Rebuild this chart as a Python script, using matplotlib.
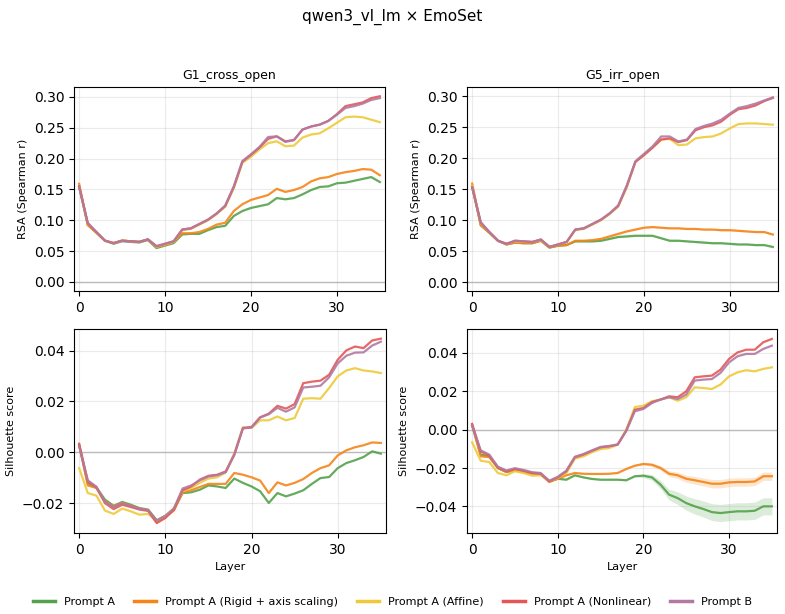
import numpy as np
import matplotlib
matplotlib.use("Agg")
import matplotlib.pyplot as plt
from matplotlib.lines import Line2D

# ---- data ----
layers = np.arange(36)

series_names = ["Prompt A", "Prompt A (Rigid + axis scaling)", "Prompt A (Affine)",
                "Prompt A (Nonlinear)", "Prompt B"]
colors = ["#54a24b", "#f58518", "#eeca3b", "#e45756", "#b279a2"]

panel_titles = ["G1_cross_open", "G5_irr_open"]

# RSA, G1_cross_open
rsa_g1_a = [0.154, 0.093, 0.080, 0.067, 0.062, 0.066, 0.065, 0.064, 0.068, 0.055, 0.059, 0.063,
            0.077, 0.078, 0.078, 0.084, 0.089, 0.091, 0.107, 0.115, 0.120, 0.123, 0.126, 0.136,
            0.134, 0.136, 0.142, 0.149, 0.154, 0.155, 0.160, 0.161, 0.164, 0.167, 0.170, 0.162]
rsa_g1_rigid = [0.159, 0.092, 0.080, 0.067, 0.063, 0.067, 0.066, 0.065, 0.069, 0.057, 0.060, 0.065,
                0.079, 0.079, 0.081, 0.086, 0.093, 0.096, 0.115, 0.126, 0.133, 0.137, 0.141, 0.151,
                0.146, 0.149, 0.154, 0.163, 0.168, 0.170, 0.175, 0.178, 0.180, 0.183, 0.182, 0.173]
rsa_g1_affine = [0.155, 0.094, 0.081, 0.067, 0.063, 0.067, 0.066, 0.065, 0.069, 0.057, 0.061, 0.065,
                 0.084, 0.086, 0.093, 0.100, 0.110, 0.122, 0.152, 0.193, 0.203, 0.215, 0.225, 0.228,
                 0.220, 0.221, 0.234, 0.239, 0.241, 0.249, 0.258, 0.267, 0.268, 0.267, 0.263, 0.259]
rsa_g1_nonlin = [0.155, 0.095, 0.081, 0.067, 0.063, 0.067, 0.066, 0.065, 0.069, 0.058, 0.062, 0.066,
                 0.085, 0.087, 0.094, 0.101, 0.111, 0.123, 0.154, 0.195, 0.206, 0.218, 0.232, 0.236,
                 0.228, 0.230, 0.247, 0.252, 0.255, 0.261, 0.272, 0.285, 0.288, 0.291, 0.298, 0.301]
rsa_g1_b = [0.154, 0.096, 0.081, 0.067, 0.063, 0.067, 0.066, 0.065, 0.069, 0.058, 0.062, 0.066,
            0.085, 0.087, 0.094, 0.101, 0.111, 0.124, 0.155, 0.196, 0.207, 0.219, 0.235, 0.236,
            0.227, 0.230, 0.247, 0.252, 0.255, 0.261, 0.271, 0.282, 0.285, 0.289, 0.295, 0.298]

# RSA, G5_irr_open
rsa_g5_a = [0.155, 0.092, 0.080, 0.067, 0.061, 0.064, 0.063, 0.063, 0.067, 0.056, 0.059, 0.060,
            0.066, 0.066, 0.066, 0.067, 0.070, 0.073, 0.074, 0.075, 0.075, 0.075, 0.071, 0.067,
            0.067, 0.066, 0.065, 0.064, 0.063, 0.063, 0.062, 0.061, 0.061, 0.060, 0.060, 0.057]
rsa_g5_rigid = [0.159, 0.092, 0.080, 0.067, 0.061, 0.064, 0.063, 0.063, 0.067, 0.056, 0.059, 0.060,
                0.067, 0.067, 0.068, 0.070, 0.074, 0.078, 0.082, 0.085, 0.088, 0.089, 0.088, 0.087,
                0.087, 0.086, 0.086, 0.085, 0.085, 0.084, 0.084, 0.083, 0.082, 0.081, 0.081, 0.077]
rsa_g5_affine = [0.155, 0.095, 0.081, 0.067, 0.062, 0.066, 0.065, 0.065, 0.068, 0.057, 0.061, 0.065,
                 0.084, 0.086, 0.093, 0.100, 0.110, 0.122, 0.153, 0.194, 0.205, 0.217, 0.230, 0.231,
                 0.221, 0.222, 0.232, 0.234, 0.235, 0.240, 0.248, 0.255, 0.256, 0.256, 0.255, 0.254]
rsa_g5_nonlin = [0.153, 0.096, 0.081, 0.067, 0.062, 0.067, 0.066, 0.065, 0.069, 0.057, 0.061, 0.065,
                 0.085, 0.087, 0.094, 0.101, 0.111, 0.123, 0.155, 0.194, 0.205, 0.217, 0.230, 0.232,
                 0.226, 0.229, 0.245, 0.250, 0.253, 0.259, 0.270, 0.279, 0.281, 0.285, 0.292, 0.297]
rsa_g5_b = [0.153, 0.097, 0.081, 0.067, 0.062, 0.067, 0.066, 0.065, 0.069, 0.057, 0.061, 0.065,
            0.085, 0.087, 0.094, 0.101, 0.111, 0.124, 0.156, 0.195, 0.207, 0.219, 0.235, 0.235,
            0.227, 0.230, 0.247, 0.252, 0.256, 0.262, 0.272, 0.281, 0.284, 0.288, 0.293, 0.298]

# Silhouette, G1_cross_open
sil_g1_a = [0.0028, -0.0123, -0.0138, -0.0186, -0.0210, -0.0195, -0.0206, -0.0219, -0.0225, -0.0267,
            -0.0249, -0.0223, -0.0160, -0.0157, -0.0147, -0.0130, -0.0134, -0.0140, -0.0103, -0.0120,
            -0.0134, -0.0153, -0.0199, -0.0160, -0.0173, -0.0162, -0.0149, -0.0124, -0.0101, -0.0097,
            -0.0062, -0.0042, -0.0031, -0.0018, 0.0004, -0.0005]
sil_g1_rigid = [0.0030, -0.0130, -0.0140, -0.0193, -0.0212, -0.0199, -0.0210, -0.0221, -0.0228, -0.0275,
                -0.0254, -0.0228, -0.0157, -0.0149, -0.0136, -0.0124, -0.0124, -0.0124, -0.0081, -0.0088,
                -0.0098, -0.0111, -0.0160, -0.0118, -0.0130, -0.0120, -0.0105, -0.0081, -0.0062, -0.0051,
                -0.0012, 0.0008, 0.0020, 0.0028, 0.0039, 0.0037]
sil_g1_affine = [-0.0062, -0.0160, -0.0170, -0.0229, -0.0242, -0.0221, -0.0232, -0.0245, -0.0242, -0.0271,
                 -0.0251, -0.0219, -0.0153, -0.0140, -0.0120, -0.0103, -0.0098, -0.0079, -0.0003, 0.0098,
                 0.0096, 0.0126, 0.0126, 0.0141, 0.0126, 0.0135, 0.0211, 0.0213, 0.0211, 0.0253,
                 0.0299, 0.0322, 0.0331, 0.0322, 0.0318, 0.0312]
sil_g1_nonlin = [0.0034, -0.0114, -0.0138, -0.0200, -0.0223, -0.0206, -0.0215, -0.0225, -0.0230, -0.0278,
                 -0.0258, -0.0225, -0.0149, -0.0134, -0.0107, -0.0092, -0.0088, -0.0075, -0.0009, 0.0096,
                 0.0100, 0.0138, 0.0152, 0.0183, 0.0172, 0.0190, 0.0272, 0.0278, 0.0282, 0.0305,
                 0.0364, 0.0401, 0.0416, 0.0410, 0.0440, 0.0447]
sil_g1_b = [0.0024, -0.0110, -0.0135, -0.0195, -0.0215, -0.0200, -0.0210, -0.0222, -0.0227, -0.0268,
            -0.0250, -0.0220, -0.0142, -0.0130, -0.0110, -0.0095, -0.0090, -0.0078, -0.0010, 0.0094,
            0.0098, 0.0137, 0.0150, 0.0175, 0.0160, 0.0177, 0.0255, 0.0258, 0.0262, 0.0295,
            0.0350, 0.0380, 0.0392, 0.0393, 0.0420, 0.0435]

# Silhouette, G5_irr_open
sil_g5_a = [0.0021, -0.0130, -0.0139, -0.0200, -0.0221, -0.0209, -0.0217, -0.0226, -0.0230, -0.0270,
            -0.0256, -0.0261, -0.0238, -0.0249, -0.0257, -0.0261, -0.0261, -0.0261, -0.0264, -0.0243,
            -0.0240, -0.0249, -0.0287, -0.0339, -0.0357, -0.0383, -0.0400, -0.0414, -0.0430, -0.0435,
            -0.0430, -0.0426, -0.0426, -0.0423, -0.0400, -0.0400]
sil_g5_rigid = [0.0026, -0.0139, -0.0143, -0.0200, -0.0221, -0.0212, -0.0221, -0.0230, -0.0231, -0.0273,
                -0.0256, -0.0238, -0.0226, -0.0230, -0.0231, -0.0231, -0.0230, -0.0226, -0.0205, -0.0188,
                -0.0179, -0.0183, -0.0200, -0.0230, -0.0238, -0.0256, -0.0264, -0.0273, -0.0282, -0.0282,
                -0.0275, -0.0273, -0.0273, -0.0270, -0.0243, -0.0243]
sil_g5_affine = [-0.0066, -0.0162, -0.0169, -0.0226, -0.0238, -0.0217, -0.0226, -0.0240, -0.0238, -0.0270,
                 -0.0252, -0.0226, -0.0151, -0.0139, -0.0118, -0.0101, -0.0096, -0.0078, 0.0000, 0.0118,
                 0.0125, 0.0148, 0.0157, 0.0169, 0.0151, 0.0169, 0.0221, 0.0217, 0.0212, 0.0235,
                 0.0278, 0.0299, 0.0310, 0.0304, 0.0317, 0.0325]
sil_g5_nonlin = [0.0030, -0.0113, -0.0136, -0.0197, -0.0217, -0.0205, -0.0214, -0.0226, -0.0230, -0.0270,
                 -0.0249, -0.0217, -0.0144, -0.0130, -0.0110, -0.0092, -0.0087, -0.0078, -0.0005, 0.0104,
                 0.0113, 0.0144, 0.0157, 0.0174, 0.0169, 0.0200, 0.0273, 0.0278, 0.0282, 0.0313,
                 0.0369, 0.0403, 0.0417, 0.0417, 0.0456, 0.0473]
sil_g5_b = [0.0021, -0.0108, -0.0130, -0.0193, -0.0213, -0.0201, -0.0210, -0.0222, -0.0226, -0.0266,
            -0.0246, -0.0214, -0.0141, -0.0127, -0.0108, -0.0090, -0.0085, -0.0077, -0.0006, 0.0096,
            0.0108, 0.0139, 0.0157, 0.0169, 0.0160, 0.0183, 0.0256, 0.0261, 0.0264, 0.0296,
            0.0351, 0.0383, 0.0395, 0.0395, 0.0421, 0.0438]

# spread bands (only visible ones)
rsa_g5_band_a = [0.0] * 12 + [0.0012] * 24
rsa_g5_band_rigid = [0.0] * 12 + [0.0012] * 24
sil_g5_band_a = [0.0003] * 20 + [0.001, 0.0015, 0.0022, 0.0028, 0.0033, 0.0037, 0.0040, 0.0042,
                                  0.0044, 0.0045, 0.0045, 0.0045, 0.0045, 0.0045, 0.0045, 0.0045]
sil_g5_band_rigid = [0.0002] * 20 + [0.0006, 0.0009, 0.0012, 0.0015, 0.0017, 0.0019, 0.0020, 0.0021,
                                     0.0022, 0.0022, 0.0022, 0.0022, 0.0022, 0.0022, 0.0022, 0.0022]

panels = [
    ([rsa_g1_a, rsa_g1_rigid, rsa_g1_affine, rsa_g1_nonlin, rsa_g1_b], {}),
    ([rsa_g5_a, rsa_g5_rigid, rsa_g5_affine, rsa_g5_nonlin, rsa_g5_b],
     {0: rsa_g5_band_a, 1: rsa_g5_band_rigid}),
    ([sil_g1_a, sil_g1_rigid, sil_g1_affine, sil_g1_nonlin, sil_g1_b], {}),
    ([sil_g5_a, sil_g5_rigid, sil_g5_affine, sil_g5_nonlin, sil_g5_b],
     {0: sil_g5_band_a, 1: sil_g5_band_rigid}),
]

# ---- figure ----
W, H = 785, 614
fig = plt.figure(figsize=(W / 100, H / 100), dpi=100)
fig.suptitle("qwen3_vl_lm × EmoSet", fontsize=11, y=0.985)

rects_px = [(74, 87, 385, 291), (467, 87, 778, 291),
            (74, 329, 386, 533), (467, 329, 777, 533)]
ylims = [(-0.0146, 0.316), (-0.014, 0.3147), (-0.0317, 0.0485), (-0.0539, 0.0525)]

for k, (ys, bands) in enumerate(panels):
    x0, y0, x1, y1 = rects_px[k]
    ax = fig.add_axes([x0 / W, 1 - y1 / H, (x1 - x0) / W, (y1 - y0) / H])
    ax.axhline(0, color="gray", lw=1, alpha=0.5, zorder=1)
    for i, (vals, c) in enumerate(zip(ys, colors)):
        vals = np.array(vals)
        if i in bands:
            sd = np.array(bands[i])
            ax.fill_between(layers, vals - sd, vals + sd, color=c, alpha=0.2, lw=0)
        ax.plot(layers, vals, color=c, lw=1.6, alpha=0.9, label=series_names[i])
    ax.set_xlim(-0.6, 35.6)
    ax.set_ylim(*ylims[k])
    ax.set_xticks([0, 10, 20, 30])
    ax.grid(True, alpha=0.25)
    ax.tick_params(labelsize=10)
    if k < 2:
        ax.set_title(panel_titles[k], fontsize=9)
        ax.set_ylabel("RSA (Spearman r)", fontsize=8)
    else:
        ax.set_ylabel("Silhouette score", fontsize=8)
        ax.set_xlabel("Layer", fontsize=8)

handles = [Line2D([0], [0], color=c, lw=2.5) for c in colors]
fig.legend(handles, series_names, loc="center", bbox_to_anchor=(0.5, 0.02),
           ncol=5, fontsize=8, frameon=False, columnspacing=1.7)

fig.savefig("out.png", dpi=100)
